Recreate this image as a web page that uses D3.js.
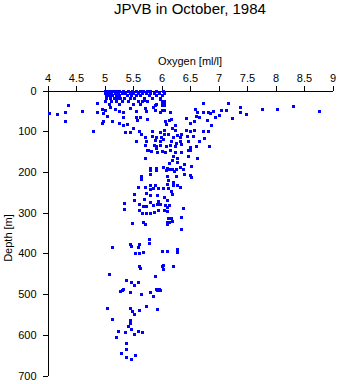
<!DOCTYPE html>
<html>
<head>
<meta charset="utf-8">
<script src="https://cdn.jsdelivr.net/npm/d3@7/dist/d3.min.js"></script>
<style>
  body { margin: 0; background: #fff; }
  svg { display: block; }
  text { font-family: "Liberation Sans", Arial, Helvetica, sans-serif; fill: #000; }
</style>
</head>
<body>
<svg id="chart" width="338" height="384"></svg>
<script>
// Axis ticks
const oxygenTicks = [4, 4.5, 5, 5.5, 6, 6.5, 7, 7.5, 8, 8.5, 9];
const depthTicks = [0, 100, 200, 300, 400, 500, 600, 700];

// CTD bottle samples, [oxygen ml/l, depth m], grouped by depth layer
const surfaceLayer = [
  [5.0,2],[5.05,2],[5.1,2],[5.15,2],[5.2,2],[5.25,2],[5.32,2],[5.42,2],[5.48,2],[5.56,2],[5.62,2],[5.68,2],[5.75,2],[5.8,2],[5.9,2],[6.02,2],
  [5.0,6],[5.06,6],[5.12,6],[5.18,6],[5.24,6],[5.3,6],[5.36,6],[5.44,6],[5.5,6],[5.58,6],[5.66,6],[5.72,6],[5.8,6],[5.86,6],[5.95,6],[6.05,6],
  [5.02,12],[5.08,12],[5.14,12],[5.2,12],[5.26,12],[5.4,12],[5.47,12],[5.55,12],[5.63,12],[5.78,12],[5.9,12],[6.0,12],
  [5.03,19],[5.1,19],[5.16,19],[5.22,19],[5.28,19],[5.35,19],[5.45,19],[5.52,19],[5.7,19],[5.83,19],[5.97,19],
  [5.0,25],[5.12,25],[5.2,25],[5.3,25],[5.42,25],[5.58,25],[5.66,25],[5.75,25],[6.05,25],
  [5.08,32],[5.25,32],[5.5,32],[5.62,32],[5.9,32],[6.0,32],
  [4.36,35],[4.87,31],[5.7,24],[5.97,21],[6.01,27],[6.05,29],[6.72,31],[7.17,31],[5.89,35],[6.0,35],[6.05,35]
];

const upperLayer = [
  [4.03,55],[4.16,57],[4.31,52],[4.31,75],[4.61,50],[4.8,99],[4.87,53],[4.97,56],[4.96,80],[4.97,76],
  [5.01,47],[5.04,62],[5.13,75],[5.19,46],[5.25,51],[5.32,66],[5.25,79],[5.32,84],[5.33,52],[5.4,82],
  [5.36,101],[5.44,101],[5.5,93],[5.56,50],[5.55,66],[5.57,73],[5.62,64],[5.61,99],[5.64,106],[5.73,51],
  [5.71,44],[5.74,70],[6.01,47],[6.05,47],[5.89,49],[5.97,52],[6.15,53],[6.16,69],[6.13,73],[6.07,75],
  [6.08,83],[6.18,93],[6.24,85],[6.24,98],[6.59,46],[6.63,52],[6.72,53],[6.82,52],[6.91,51],[6.85,55],
  [7.04,48],[7.13,47],[7.38,40],[7.38,53],[7.49,57],[7.24,68],[7.01,61],[6.94,66],[6.66,66],[6.6,63],
  [6.57,74],[6.43,68],[6.5,80],[6.87,84],[6.8,72],[6.43,96],[6.5,100],[6.57,98],[6.73,99],[6.82,99],
  [7.77,45],[8.03,45],[8.3,38],[8.77,50],[5.83,99],[6.05,98],[5.97,102],
  [4.95,45],[5.1,40],[5.45,42],[5.85,40]
];

const midLayer = [
  [5.71,113],[5.72,123],[5.71,133],[5.75,146],[5.55,123],
  [6.55,111],[6.74,117],[6.66,123],[6.84,136],[6.6,136],[6.47,123],[6.44,111],[6.35,106],[6.28,109],[6.33,114],
  [6.2,114],[6.12,106],[6.05,106],[5.83,111],[5.91,113],[5.99,113],[5.97,124],[5.89,122],[6.02,119],[6.17,124],
  [6.26,129],[6.33,124],[5.86,133],[5.91,137],[5.97,135],[6.08,137],[6.15,133],[6.24,137],[6.35,131],[6.5,139],[5.91,140],
  [5.77,147],[5.82,149],[5.92,150],[6.01,149],[6.06,150],[6.15,147],[6.24,152],[6.35,151],[6.47,147],[6.5,145],
  [6.2,162],[6.18,170],[6.27,166],[6.47,160],[6.63,166],[5.71,166],[6.27,175],[6.14,178],[6.39,180],[6.51,185],
  [6.33,187],[5.79,190],[5.9,190],[5.9,196],[6.03,188],[6.09,190],[6.14,193],[6.18,192],[6.22,198],[6.25,194],
  [6.08,196],[6.38,194],[6.4,206],[6.5,208],[6.51,213],[5.8,206],[5.64,209],[6.09,211],[6.25,211],[6.11,220],
  [6.2,224],[6.09,230],[5.58,236],[5.71,236],[5.8,232],[5.88,231],[5.79,241],[5.85,239],[5.93,239],[6.03,239],
  [6.11,239],[6.2,233],[6.27,231],[6.33,238],[6.16,247],[6.18,253],[5.52,253],[5.73,252],[5.8,257],[5.92,257],
  [6.05,261],[6.1,269],[5.69,267],[5.35,276],[5.6,278],[5.72,283],[5.85,282],[5.92,279],[5.98,279],[6.06,282],
  [6.13,280],[6.38,289],[5.64,217],[5.79,196],[5.52,270],[5.8,275],[5.94,272],[6.1,285],[5.67,284],
  [5.73,300],[5.86,298],[5.94,294],[6.04,294],[6.1,296],[5.35,292],[5.61,294]
];

const deepLayer = [
  [5.49,325],[5.68,322],[5.71,329],[6.09,327],[6.14,322],[6.12,312],[6.35,310],[6.35,341],[5.79,302],[5.66,302],
  [6.16,313],[6.18,320],[6.1,324],
  [5.78,365],[5.78,374],[5.13,385],[5.44,377],[5.46,383],[5.6,377],[5.59,385],[5.54,400],[5.61,398],[5.68,396],
  [6.01,393],[6.09,393],[6.28,390],[6.28,396],[5.6,430],[5.63,437],[6.0,430],[6.03,428],[6.02,438],[6.2,432],
  [5.08,450],[5.37,465],[5.46,470],[5.52,478],[5.58,470],[5.88,455],[5.32,487],[5.9,487],[5.96,487],
  [5.28,493],[5.31,490],[5.44,495],[5.64,499],[5.8,496],[5.85,505],[5.92,491],[5.98,489],
  [5.04,533],[5.44,535],[5.49,541],[5.51,548],[5.61,538],[5.72,529],[5.92,536],
  [5.13,561],[5.44,563],[5.44,571],[5.42,579],[5.46,587],[5.24,590],[5.36,592],[5.51,598],[5.58,591],[5.65,592],
  [5.2,605],[5.38,620],[5.38,635],[5.29,645],[5.53,649],[5.38,655],[5.46,660]
];

const samples = [...surfaceLayer, ...upperLayer, ...midLayer, ...deepLayer];

const svg = d3.select("#chart");

const x = d3.scaleLinear().domain([4, 9]).range([47.5, 332.5]);
const y = d3.scaleLinear().domain([0, 700]).range([90.5, 375.5]);

// Title
svg.append("text")
  .attr("x", 190).attr("y", 14)
  .attr("text-anchor", "middle")
  .style("font-size", "15px")
  .text("JPVB in October, 1984");

// Top oxygen axis
const xAxis = svg.append("g")
  .attr("transform", "translate(0,90.5)")
  .call(d3.axisTop(x).tickValues(oxygenTicks).tickSize(5).tickSizeOuter(0).tickPadding(4)
    .tickFormat(d => String(d)));
xAxis.selectAll("text").style("font-size", "11px").style("font-family", "'Liberation Sans', Arial, sans-serif");

svg.append("text")
  .attr("x", 190).attr("y", 65)
  .attr("text-anchor", "middle")
  .style("font-size", "11px")
  .text("Oxygen [ml/l]");

// Left depth axis
const yAxis = svg.append("g")
  .attr("transform", "translate(47.5,0)")
  .call(d3.axisLeft(y).tickValues(depthTicks).tickSize(5).tickSizeOuter(0).tickPadding(6)
    .tickFormat(d => String(d)));
yAxis.selectAll("text").style("font-size", "11px").style("font-family", "'Liberation Sans', Arial, sans-serif");

svg.selectAll(".domain, .tick line").attr("stroke", "#000").attr("shape-rendering", "crispEdges");

svg.append("text")
  .attr("transform", "translate(12,238) rotate(-90)")
  .attr("text-anchor", "middle")
  .style("font-size", "11px")
  .text("Depth [m]");

// Sample markers
svg.append("g")
  .selectAll("rect")
  .data(samples)
  .join("rect")
  .attr("x", d => Math.round(x(d[0])) - 1.5)
  .attr("y", d => Math.round(y(d[1])) - 1.5)
  .attr("width", 3)
  .attr("height", 3)
  .attr("fill", "#0000ff")
  .attr("shape-rendering", "crispEdges");
</script>
</body>
</html>
